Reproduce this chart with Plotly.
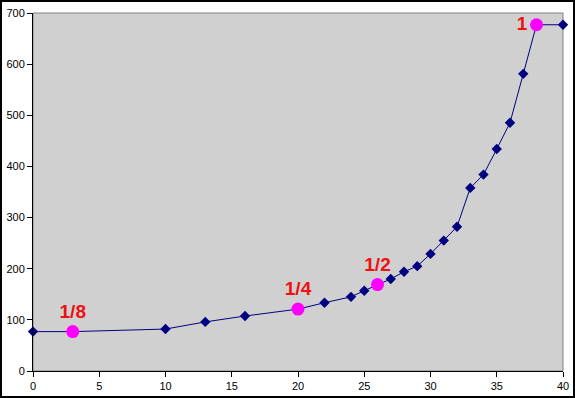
import plotly.graph_objects as go

x_vals = [0, 10, 13, 16, 22, 24, 25, 27, 28, 29, 30, 31, 32, 33, 34, 35, 36, 37, 40]
y_vals = [77, 82, 96, 107.5, 133.5, 145, 157, 180, 194, 205, 229, 255, 282, 358, 384, 434, 485.5, 581, 677]

mark_x = [3, 20, 26, 38]
mark_y = [77, 121, 169, 677]
mark_labels = ["1/8", "1/4", "1/2", "1"]
mark_pos = ["top center", "top center", "top center", "middle left"]

# full line including highlighted points
all_pts = sorted(list(zip(x_vals, y_vals)) + list(zip(mark_x, mark_y)))
line_x = [p[0] for p in all_pts]
line_y = [p[1] for p in all_pts]

fig = go.Figure()
fig.add_trace(go.Scatter(
    x=line_x, y=line_y, mode="lines",
    line=dict(color="#000080", width=1), cliponaxis=False, hoverinfo="skip"))
fig.add_trace(go.Scatter(
    x=x_vals, y=y_vals, mode="markers",
    marker=dict(symbol="diamond", size=8, color="#000080"), cliponaxis=False))
fig.add_trace(go.Scatter(
    x=mark_x, y=mark_y, mode="markers+text",
    text=mark_labels, textposition=mark_pos,
    textfont=dict(family="Liberation Sans, Arial", size=19, color="#ee1111", weight="bold"),
    marker=dict(symbol="circle", size=13, color="#ff00ff"), cliponaxis=False))

L, R, T, B = 33, 12, 13, 27
W, H = 575, 398
pw, ph = W - L - R, H - T - B

fig.update_layout(
    width=W, height=H,
    margin=dict(l=L, r=R, t=T, b=B, autoexpand=False),
    paper_bgcolor="white", plot_bgcolor="#d0d0d0",
    showlegend=False,
    font=dict(family="Liberation Sans, Arial", size=11, color="black"),
    shapes=[
        dict(type="rect", xref="paper", yref="paper", x0=0, x1=1, y0=0, y1=1,
             line=dict(color="#808080", width=1), layer="below"),
        dict(type="rect", xref="paper", yref="paper",
             x0=-(L - 1) / pw, x1=1 + (R - 1) / pw,
             y0=-(B - 1) / ph, y1=1 + (T - 1) / ph,
             line=dict(color="black", width=2)),
    ],
)
fig.update_xaxes(range=[0, 40], tickvals=[0, 5, 10, 15, 20, 25, 30, 35, 40],
                 showgrid=False, zeroline=False, showline=True, linecolor="black",
                 linewidth=1, ticks="outside", ticklen=5, tickcolor="black",
                 automargin=False)
fig.update_yaxes(range=[0, 700], tickvals=[0, 100, 200, 300, 400, 500, 600, 700],
                 showgrid=False, zeroline=False, showline=True, linecolor="black",
                 linewidth=1, ticks="outside", ticklen=5, tickcolor="black",
                 automargin=False, ticklabelstandoff=0)

fig.write_html("out.html")
